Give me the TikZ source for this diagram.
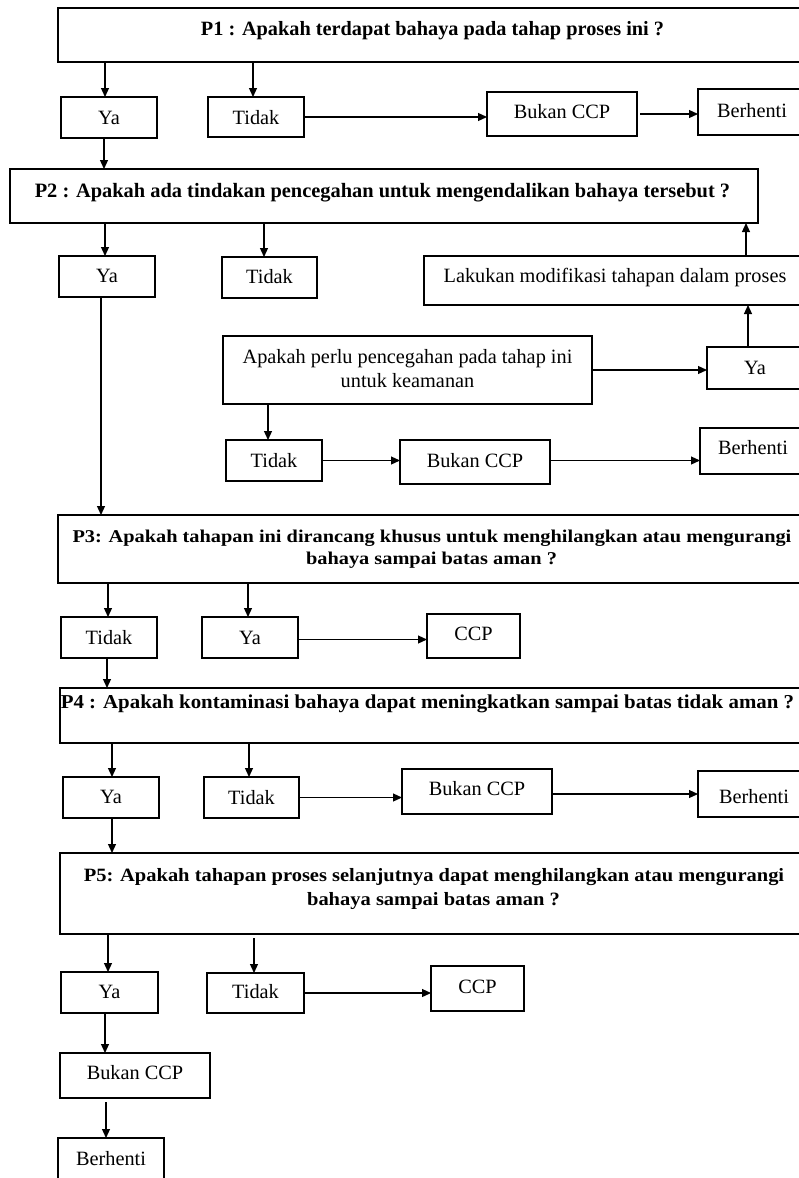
\documentclass[tikz,border=0pt]{standalone}
\usepackage{fontspec}
\setmainfont{Liberation Serif}
\usetikzlibrary{arrows.meta}
\newcommand{\mkbox}[5]{\node[bx, minimum width=#4pt-#2pt, minimum height=#5pt-#3pt] (#1) at ({(#2+#4)/2},{(#3+#5)/2}) {};}
\tikzset{
  bx/.style={draw, line width=1.3pt, inner sep=0pt, outer sep=0pt},
  tx/.style={anchor=base, inner sep=0pt, font=\fontsize{20.3}{24}\selectfont},
  bt/.style={anchor=base, inner sep=0pt, font=\fontsize{#1}{24}\selectfont\bfseries},
  ar/.style={line width=1.2pt, -{Triangle[length=9pt,width=8pt]}},
  ln/.style={line width=1.2pt}
}
\begin{document}
\begin{tikzpicture}[x=1pt,y=-1pt]
\useasboundingbox (0,0) rectangle (798,1178);
% ---- P1
\mkbox{p1}{58}{8}{806}{62}
\node[bt=20.3] (p1t) at (432.5,35) {P1 : Apakah terdapat bahaya pada tahap proses ini ?};
\mkbox{ya1}{61}{97}{157}{138}
\node[tx] (ya1t) at (109,124) {Ya};
\mkbox{ti1}{208}{97}{304}{137}
\node[tx] (ti1t) at (256,124) {Tidak};
\mkbox{bk1}{487}{92}{637}{136}
\node[tx] (bk1t) at (562,118) {Bukan CCP};
\mkbox{be1}{698}{89}{806}{135}
\node[tx] (be1t) at (752,117) {Berhenti};
\draw[ar] ([xshift=-4pt]ya1.north |- p1.south) -- ([xshift=-4pt]ya1.north);
\draw[ar] ([xshift=-3pt]ti1.north |- p1.south) -- ([xshift=-3pt]ti1.north);
\draw[ar] (ti1.east) -- (ti1.east -| bk1.west);
\draw[ar] ([xshift=3pt]bk1.east) -- (bk1.east -| be1.west);
% ---- P2
\mkbox{p2}{10}{169}{758}{223}
\node[bt=20.4] (p2t) at (382.5,197) {P2 : Apakah ada tindakan pencegahan untuk mengendalikan bahaya tersebut ?};
\draw[ar] ([xshift=-5pt]ya1.south) -- ([xshift=-5pt]ya1.south |- p2.north);
\mkbox{ya2}{59}{256}{155}{297}
\node[tx] (ya2t) at (107,282) {Ya};
\mkbox{ti2}{222}{257}{317}{298}
\node[tx] (ti2t) at (269.5,283) {Tidak};
\draw[ar] ([xshift=-2pt]ya2.north |- p2.south) -- ([xshift=-2pt]ya2.north);
\draw[ar] ([xshift=-5.5pt]ti2.north |- p2.south) -- ([xshift=-5.5pt]ti2.north);
\mkbox{lk}{424}{256}{806}{305}
\node[tx] (lkt) at (615,282) {Lakukan modifikasi tahapan dalam proses};
\draw[ar] ([xshift=-12pt]p2.south east |- lk.north) -- ([xshift=-12pt]p2.south east);
\mkbox{ap}{223}{336}{592}{404}
\node[tx] (apt1) at (407.5,363) {Apakah perlu pencegahan pada tahap ini};
\node[tx] (apt2) at (407.5,387) {untuk keamanan};
\mkbox{ya3}{707}{347}{803}{389}
\node[tx] (ya3t) at (755,374) {Ya};
\draw[ar] (ap.east) -- (ap.east -| ya3.west);
\draw[ar] ([xshift=-7pt]ya3.north) -- ([xshift=-7pt]ya3.north |- lk.south);
\mkbox{ti3}{226}{440}{322}{481}
\node[tx] (ti3t) at (274,467) {Tidak};
\mkbox{bk3}{400}{440}{550}{484}
\node[tx] (bk3t) at (475,467) {Bukan CCP};
\mkbox{be3}{700}{428}{806}{474}
\node[tx] (be3t) at (753,454) {Berhenti};
\draw[ar] ([xshift=-6pt]ti3.north |- ap.south) -- ([xshift=-6pt]ti3.north);
\draw[ar] (ti3.east) -- (ti3.east -| bk3.west);
\draw[ar] (bk3.east |- ti3.east) -- (ti3.east -| be3.west);
% ---- P3
\mkbox{p3}{58}{515}{806}{583}
\node[bt=18] (p3t1) at (432,542) {\scalebox{1.13}[1]{P3: Apakah tahapan ini dirancang khusus untuk menghilangkan atau mengurangi}};
\node[bt=18] (p3t2) at (431.5,564) {\scalebox{1.13}[1]{bahaya sampai batas aman ?}};
\draw[ar] ([xshift=-6pt]ya2.south) -- ([xshift=-6pt]ya2.south |- p3.north);
\mkbox{ti4}{61}{617}{157}{658}
\node[tx] (ti4t) at (109,644) {Tidak};
\mkbox{ya4}{202}{617}{298}{658}
\node[tx] (ya4t) at (250,644) {Ya};
\mkbox{cc1}{427}{614}{520}{658}
\node[tx] (cc1t) at (473.5,640) {CCP};
\draw[ar] ([xshift=-1pt]ti4.north |- p3.south) -- ([xshift=-1pt]ti4.north);
\draw[ar] ([xshift=-2pt]ya4.north |- p3.south) -- ([xshift=-2pt]ya4.north);
\draw[ar] ([yshift=-2pt]ya4.east) -- ([yshift=-2pt]ya4.east -| cc1.west);
% ---- P4
\mkbox{p4}{60}{688}{806}{743}
\node[bt=19.7] (p4t) at (427.5,708) {\scalebox{1.06}[1]{P4 : Apakah kontaminasi bahaya dapat meningkatkan sampai batas tidak aman ?}};
\draw[ar] ([xshift=-2pt]ti4.south) -- ([xshift=-2pt]ti4.south |- p4.north);
\mkbox{ya5}{63}{777}{159}{818}
\node[tx] (ya5t) at (111,803) {Ya};
\mkbox{ti5}{204}{777}{299}{818}
\node[tx] (ti5t) at (251.5,804) {Tidak};
\mkbox{bk5}{402}{769}{552}{814}
\node[tx] (bk5t) at (477,795) {Bukan CCP};
\mkbox{be5}{698}{771}{806}{817}
\node[tx] (be5t) at (754,803) {Berhenti};
\draw[ar] ([xshift=1pt]ya5.north |- p4.south) -- ([xshift=1pt]ya5.north);
\draw[ar] ([xshift=-2.5pt]ti5.north |- p4.south) -- ([xshift=-2.5pt]ti5.north);
\draw[ar] (ti5.east) -- (ti5.east -| bk5.west);
\draw[ar] (bk5.east |- be5.west) -- (be5.west);
% ---- P5
\mkbox{p5}{60}{853}{806}{934}
\node[bt=18.8] (p5t1) at (434,881) {\scalebox{1.09}[1]{P5: Apakah tahapan proses selanjutnya dapat menghilangkan atau mengurangi}};
\node[bt=18.8] (p5t2) at (433.5,905) {\scalebox{1.09}[1]{bahaya sampai batas aman ?}};
\draw[ar] ([xshift=1pt]ya5.south) -- ([xshift=1pt]ya5.south |- p5.north);
\mkbox{ya6}{61}{972}{158}{1013}
\node[tx] (ya6t) at (109.5,998) {Ya};
\mkbox{ti6}{207}{973}{304}{1013}
\node[tx] (ti6t) at (255.5,998) {Tidak};
\mkbox{cc2}{431}{966}{524}{1011}
\node[tx] (cc2t) at (477.5,993) {CCP};
\draw[ar] ([xshift=-1.5pt]ya6.north |- p5.south) -- ([xshift=-1.5pt]ya6.north);
\draw[ar] ([xshift=-1.5pt,yshift=-4pt]ti6.north |- p5.south) -- ([xshift=-1.5pt]ti6.north);
\draw[ar] (ti6.east) -- (ti6.east -| cc2.west);
\mkbox{bk6}{60}{1053}{210}{1098}
\node[tx] (bk6t) at (135,1079) {Bukan CCP};
\mkbox{be6}{58}{1138}{164}{1195}
\node[tx] (be6t) at (111,1165) {Berhenti};
\draw[ar] ([xshift=-30pt]bk6.north |- ya6.south) -- ([xshift=-30pt]bk6.north);
\draw[ar] ([xshift=-29pt,yshift=-4pt]bk6.south) -- ([xshift=-29pt]bk6.south |- be6.north);
\end{tikzpicture}
\end{document}
